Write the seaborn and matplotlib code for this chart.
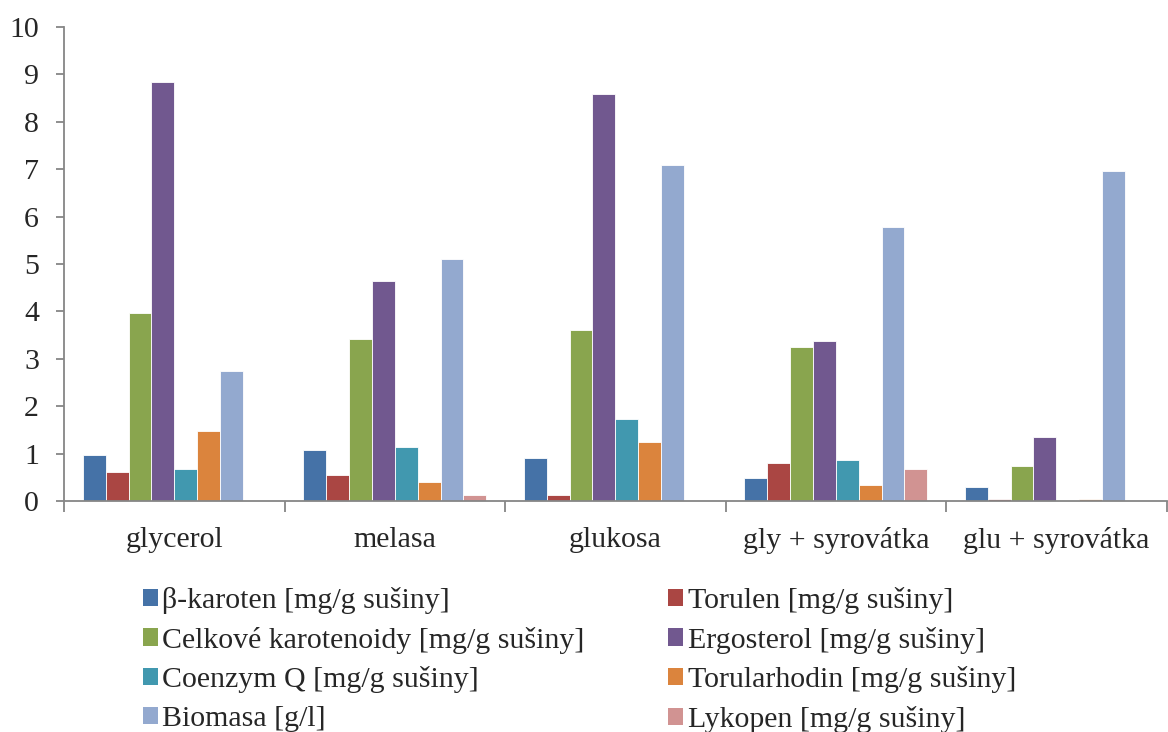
import matplotlib
matplotlib.use("Agg")
import matplotlib.pyplot as plt
import seaborn as sns
import pandas as pd
from matplotlib.patches import Patch

categories = ["glycerol", "melasa", "glukosa", "gly + syrovátka", "glu + syrovátka"]

series_names = [
    "β-karoten [mg/g sušiny]",
    "Torulen [mg/g sušiny]",
    "Celkové karotenoidy [mg/g sušiny]",
    "Ergosterol [mg/g sušiny]",
    "Coenzym Q [mg/g sušiny]",
    "Torularhodin [mg/g sušiny]",
    "Biomasa [g/l]",
    "Lykopen [mg/g sušiny]",
]

beta_karoten = [0.96, 1.07, 0.91, 0.48, 0.30]
torulen = [0.61, 0.54, 0.12, 0.81, 0.04]
celkove_karotenoidy = [3.97, 3.42, 3.61, 3.24, 0.73]
ergosterol = [8.84, 4.64, 8.59, 3.37, 1.35]
coenzym_q = [0.675, 1.13, 1.74, 0.86, 0.0]
torularhodin = [1.47, 0.41, 1.25, 0.34, 0.05]
biomasa = [2.74, 5.11, 7.09, 5.78, 6.97]
lykopen = [0.0, 0.12, 0.0, 0.67, 0.0]

colors = ["#4572A7", "#AA4643", "#89A54E", "#71588F",
          "#4198AF", "#DB843D", "#93A9CF", "#D19392"]

series_values = [beta_karoten, torulen, celkove_karotenoidy, ergosterol,
                 coenzym_q, torularhodin, biomasa, lykopen]

rows = []
for name, vals in zip(series_names, series_values):
    for cat, v in zip(categories, vals):
        rows.append({"kategorie": cat, "serie": name, "hodnota": v})
df = pd.DataFrame(rows)

sns.set_style("white")
plt.rcParams["font.family"] = ["Liberation Serif", "DejaVu Serif"]
plt.rcParams["font.size"] = 21.5

fig = plt.figure(figsize=(11.68, 7.32), dpi=100)
ax = fig.add_axes([0.0548, 0.3156, 0.944, 0.6474])

sns.barplot(data=df, x="kategorie", y="hodnota", hue="serie",
            order=categories, hue_order=series_names,
            palette=colors, width=0.83, saturation=1,
            edgecolor="#ffffff", linewidth=0.6, ax=ax, legend=False)

ax.set_ylim(0, 10)
ax.set_xlim(-0.5, 4.5)
ax.set_yticks(range(0, 11))
ax.set_xlabel("")
ax.set_ylabel("")

axis_gray = "#868686"
for side in ["top", "right"]:
    ax.spines[side].set_visible(False)
for side in ["left", "bottom"]:
    ax.spines[side].set_color(axis_gray)
    ax.spines[side].set_linewidth(1.3)

ax.tick_params(axis="y", which="major", direction="out", length=6,
               width=1.3, color=axis_gray, pad=12, labelsize=21.5,
               left=True)
ax.tick_params(axis="x", which="major", length=0, pad=19, labelsize=21.5)
ax.set_xticks([i - 0.5 for i in range(len(categories) + 1)], minor=True)
ax.tick_params(axis="x", which="minor", direction="out", length=8,
               width=1.3, color=axis_gray, bottom=True)

# legend: two columns, filled row by row
order = [0, 2, 4, 6, 1, 3, 5, 7]
handles = [Patch(facecolor=colors[i], edgecolor="none") for i in order]
labels = [series_names[i] for i in order]
fig.legend(handles, labels, loc="upper left",
           bbox_to_anchor=(0.1224, 0.198), ncol=2, frameon=False,
           fontsize=21.5, handlelength=0.5, handleheight=0.5,
           handletextpad=0.15, columnspacing=2.8, labelspacing=0.42,
           borderpad=0, borderaxespad=0)

fig.savefig("out.png", dpi=100)
